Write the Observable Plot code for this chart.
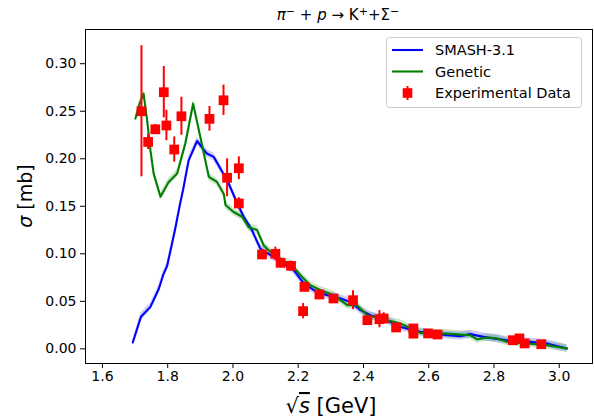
<!DOCTYPE html>
<html>
<head>
<meta charset="utf-8">
<script src="https://cdn.jsdelivr.net/npm/d3@7"></script>
<script src="https://cdn.jsdelivr.net/npm/@observablehq/plot@0.6"></script>
<style>
  html, body { margin: 0; padding: 0; background: #fff; }
  #chart { width: 594px; height: 420px; }
</style>
</head>
<body>
<div id="chart"></div>
<script>
// ---- data ----
const smashX = [1.693, 1.718, 1.747, 1.772, 1.786, 1.798, 1.810, 1.824, 1.837, 1.847, 1.864, 1.890, 1.920, 1.941, 1.961, 1.987, 2.012, 2.033, 2.058, 2.084, 2.115, 2.155, 2.186, 2.217, 2.248, 2.289, 2.330, 2.360, 2.391, 2.421, 2.472, 2.513, 2.574, 2.656, 2.697, 2.727, 2.768, 2.799, 2.840, 2.911, 2.962, 3.024];
const smashY = [0.0067, 0.0337, 0.0442, 0.0625, 0.0775, 0.087, 0.1056, 0.128, 0.151, 0.167, 0.198, 0.2187, 0.2055, 0.202, 0.190, 0.174, 0.154, 0.139, 0.125, 0.1055, 0.0985, 0.0898, 0.0828, 0.0688, 0.0617, 0.0565, 0.053, 0.0494, 0.0407, 0.0354, 0.030, 0.023, 0.018, 0.0144, 0.0134, 0.0155, 0.0126, 0.011, 0.009, 0.0074, 0.0057, 0.0004];

const genX = [1.701, 1.714, 1.726, 1.737, 1.747, 1.757, 1.778, 1.803, 1.829, 1.854, 1.878, 1.900, 1.926, 1.951, 1.972, 1.977, 2.002, 2.028, 2.048, 2.074, 2.094, 2.115, 2.145, 2.176, 2.207, 2.237, 2.268, 2.309, 2.350, 2.380, 2.411, 2.452, 2.513, 2.574, 2.656, 2.697, 2.727, 2.748, 2.778, 2.809, 2.840, 2.901, 2.962, 3.024];
const genY = [0.2423, 0.258, 0.2686, 0.2405, 0.209, 0.1844, 0.160, 0.1756, 0.1844, 0.216, 0.258, 0.223, 0.181, 0.1756, 0.163, 0.1514, 0.144, 0.139, 0.128, 0.125, 0.109, 0.102, 0.0933, 0.0898, 0.0775, 0.067, 0.0617, 0.0565, 0.046, 0.046, 0.0354, 0.032, 0.0267, 0.0168, 0.016, 0.015, 0.0144, 0.0099, 0.012, 0.011, 0.0074, 0.0057, 0.0039, 0.0004];

const expX   = [1.7195, 1.740, 1.762, 1.788, 1.796, 1.820, 1.842, 1.928, 1.971, 1.982, 2.018, 2.018, 2.089, 2.130, 2.146, 2.178, 2.219, 2.215, 2.265, 2.308, 2.368, 2.412, 2.449, 2.462, 2.500, 2.553, 2.553, 2.598, 2.627, 2.858, 2.878, 2.894, 2.945];
const expY   = [0.250, 0.2177, 0.231, 0.270, 0.235, 0.2097, 0.2447, 0.242, 0.2615, 0.180, 0.190, 0.153, 0.0993, 0.100, 0.0905, 0.0873, 0.0652, 0.0397, 0.0572, 0.053, 0.0512, 0.0302, 0.0312, 0.032, 0.0225, 0.0215, 0.016, 0.0162, 0.0151, 0.0091, 0.011, 0.0057, 0.0049];
const expErr = [0.069, 0.008, 0.005, 0.027, 0.016, 0.0133, 0.020, 0.013, 0.016, 0.020, 0.012, 0.006, 0.005, 0.007, 0.005, 0.005, 0.005, 0.008, 0.004, 0.004, 0.010, 0.004, 0.009, 0.006, 0.005, 0.004, 0.004, 0.003, 0.003, 0.003, 0.003, 0.003, 0.003];

const bandHalf = 0.004;
const xTicks = [1.6, 1.8, 2.0, 2.2, 2.4, 2.6, 2.8, 3.0];
const yTicks = [0.00, 0.05, 0.10, 0.15, 0.20, 0.25, 0.30];
const seriesNames = ["SMASH-3.1", "Genetic", "Experimental Data"];

// ---- tables ----
const smash = smashX.map((x, i) => ({x, y: smashY[i]}));
const gen = genX.map((x, i) => ({x, y: genY[i]}));
const exp = expX.map((x, i) => ({x, y: expY[i], lo: expY[i] - expErr[i], hi: expY[i] + expErr[i]}));

const FONT = "DejaVu Sans, sans-serif";
const W = 594, H = 420;

const plot = Plot.plot({
  width: W, height: H,
  marginLeft: 85, marginRight: 2, marginTop: 29, marginBottom: 57,
  x: {domain: [1.548, 3.102], label: null},
  y: {domain: [-0.0154, 0.336], label: null},
  style: {fontFamily: FONT, fontSize: "14px", color: "#000", background: "#fff", overflow: "visible"},
  marks: [
    Plot.areaY(smash, {x: "x", y1: d => d.y - bandHalf, y2: d => d.y + bandHalf, fill: "#0000ff", fillOpacity: 0.2}),
    Plot.areaY(gen, {x: "x", y1: d => d.y - bandHalf, y2: d => d.y + bandHalf, fill: "#008000", fillOpacity: 0.2}),
    Plot.line(smash, {x: "x", y: "y", stroke: "#0000ff", strokeWidth: 2.1}),
    Plot.line(gen, {x: "x", y: "y", stroke: "#008000", strokeWidth: 2.1}),
    Plot.ruleX(exp, {x: "x", y1: "lo", y2: "hi", stroke: "#ff0000", strokeWidth: 2}),
    Plot.dot(exp, {x: "x", y: "y", symbol: "square", r: 5.5, fill: "#ff0000", stroke: "none"}),
    Plot.frame({stroke: "#000", strokeWidth: 1}),
    Plot.axisX({ticks: xTicks, tickFormat: d => d.toFixed(1), tickSize: 5, tickPadding: 3, fontSize: 14, label: null}),
    Plot.axisY({ticks: yTicks, tickFormat: d => d.toFixed(2), tickSize: 5, tickPadding: 4, fontSize: 14, label: null})
  ]
});

document.getElementById("chart").appendChild(plot);

// ---- annotations: title, axis labels, legend ----
const svg = d3.select(plot);

// title
const t = svg.append("text").attr("x", 338).attr("y", 20).attr("text-anchor", "middle")
  .attr("font-family", FONT).attr("font-size", 15).attr("fill", "#000");
t.append("tspan").attr("font-style", "italic").text("π");
t.append("tspan").attr("font-size", 11).attr("dy", -5).text("−");
t.append("tspan").attr("dy", 5).text(" + ");
t.append("tspan").attr("font-style", "italic").text("p");
t.append("tspan").text(" → K");
t.append("tspan").attr("font-size", 11).attr("dy", -5).text("+");
t.append("tspan").attr("dy", 5).text("+Σ");
t.append("tspan").attr("font-size", 11).attr("dy", -5).text("−");

// y label
const yl = svg.append("text").attr("transform", "translate(32,196) rotate(-90)").attr("text-anchor", "middle")
  .attr("font-family", FONT).attr("font-size", 19).attr("fill", "#000");
yl.append("tspan").attr("font-style", "italic").text("σ");
yl.append("tspan").text(" [mb]");

// x label
const xl = svg.append("text").attr("x", 331).attr("y", 413).attr("text-anchor", "middle")
  .attr("font-family", FONT).attr("font-size", 21).attr("fill", "#000");
xl.append("tspan").text("√");
xl.append("tspan").attr("font-style", "italic").attr("text-decoration", "overline").text("s");
xl.append("tspan").text(" [GeV]");

// legend
const lg = svg.append("g").attr("text-anchor", "start");
lg.append("rect").attr("x", 386.5).attr("y", 37.5).attr("width", 195).attr("height", 70)
  .attr("rx", 3).attr("fill", "#fff").attr("fill-opacity", 0.8).attr("stroke", "#cccccc").attr("stroke-width", 1);
const rows = [50, 71.5, 93];
lg.append("line").attr("x1", 392).attr("x2", 423).attr("y1", rows[0]).attr("y2", rows[0]).attr("stroke", "#0000ff").attr("stroke-width", 2.1);
lg.append("line").attr("x1", 392).attr("x2", 423).attr("y1", rows[1]).attr("y2", rows[1]).attr("stroke", "#008000").attr("stroke-width", 2.1);
lg.append("line").attr("x1", 407.5).attr("x2", 407.5).attr("y1", rows[2] - 7).attr("y2", rows[2] + 7).attr("stroke", "#ff0000").attr("stroke-width", 2);
lg.append("rect").attr("x", 402.7).attr("y", rows[2] - 4.8).attr("width", 9.6).attr("height", 9.6).attr("fill", "#ff0000");
seriesNames.forEach((name, i) => {
  lg.append("text").attr("x", 435).attr("y", rows[i] + 5).attr("text-anchor", "start")
    .attr("font-family", FONT).attr("font-size", 14.5).attr("fill", "#000").text(name);
});
</script>
</body>
</html>
